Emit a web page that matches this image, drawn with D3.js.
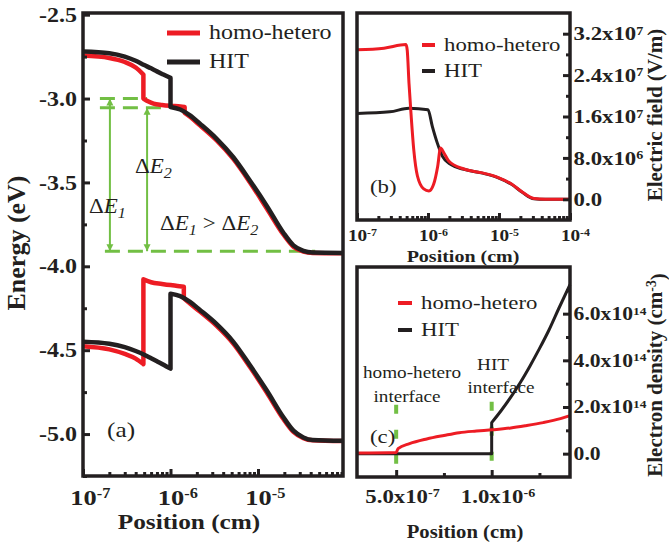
<!DOCTYPE html>
<html>
<head>
<meta charset="utf-8">
<script src="https://cdn.jsdelivr.net/npm/d3@7"></script>
<style>
  body { margin: 0; background: #fff; }
  svg { display: block; }
</style>
</head>
<body>
<svg id="chart" width="669" height="548"></svg>
<script>
const seriesNames = ['homo-hetero', 'HIT'];

// (a) band edges: [position (cm), energy (eV)]; a repeated x is an abrupt step
const cbHomo = [[1e-7,-2.744],[2e-7,-2.758],[3e-7,-2.782],[4e-7,-2.815],[4.9e-7,-2.857],[4.9e-7,-3.0],[5.6e-7,-3.018],[6.4e-7,-3.03],[8e-7,-3.038],[1e-6,-3.043],[1.3e-6,-3.047],[1.45e-6,-3.05],[1.45e-6,-3.085],[1.67e-6,-3.108],[2.17e-6,-3.16],[3.37e-6,-3.25],[5.22e-6,-3.36],[8.1e-6,-3.5],[1.26e-5,-3.655],[1.95e-5,-3.81],[2.54e-5,-3.883],[3.3e-5,-3.912],[4.2e-5,-3.92],[9.36e-5,-3.922]];
const cbHit = [[1e-7,-2.72],[2e-7,-2.73],[3e-7,-2.75],[4e-7,-2.775],[5e-7,-2.8],[6e-7,-2.82],[7e-7,-2.838],[8e-7,-2.853],[9e-7,-2.866],[1e-6,-2.877],[1e-6,-3.05],[1.29e-6,-3.065],[1.67e-6,-3.1],[2.17e-6,-3.15],[3.37e-6,-3.24],[5.22e-6,-3.35],[8.1e-6,-3.49],[1.26e-5,-3.64],[1.95e-5,-3.8],[2.54e-5,-3.875],[3.3e-5,-3.908],[4.2e-5,-3.918],[9.36e-5,-3.92]];
const vbHomo = [[1e-7,-4.476],[2e-7,-4.495],[3e-7,-4.522],[4e-7,-4.55],[4.9e-7,-4.583],[4.9e-7,-4.077],[6e-7,-4.095],[8e-7,-4.105],[1e-6,-4.112],[1.2e-6,-4.117],[1.42e-6,-4.122],[1.42e-6,-4.19],[1.67e-6,-4.222],[2.17e-6,-4.27],[3.37e-6,-4.355],[5.22e-6,-4.46],[8.1e-6,-4.6],[1.26e-5,-4.752],[1.95e-5,-4.91],[2.54e-5,-4.987],[3.3e-5,-5.024],[4.2e-5,-5.037],[9.36e-5,-5.042]];
const vbHit = [[1e-7,-4.45],[2e-7,-4.462],[3e-7,-4.482],[4e-7,-4.505],[5e-7,-4.527],[6e-7,-4.548],[7e-7,-4.566],[8e-7,-4.582],[9e-7,-4.597],[1e-6,-4.61],[1e-6,-4.163],[1.29e-6,-4.178],[1.67e-6,-4.212],[2.17e-6,-4.26],[3.37e-6,-4.345],[5.22e-6,-4.45],[8.1e-6,-4.59],[1.26e-5,-4.74],[1.95e-5,-4.9],[2.54e-5,-4.98],[3.3e-5,-5.02],[4.2e-5,-5.035],[9.36e-5,-5.04]];

// (b) electric field: [position (cm), V/m]
const fieldHomo = [[1e-7,2.89e7],[2.4e-7,2.92e7],[4.9e-7,2.99e7],[5.1e-7,2.88e7],[5.4e-7,2.24e7],[5.8e-7,1.6e7],[6.3e-7,0.96e7],[7.1e-7,0.45e7],[8.7e-7,0.2e7],[1.03e-6,0.16e7],[1.2e-6,0.29e7],[1.37e-6,0.64e7],[1.5e-6,0.99e7],[1.67e-6,0.9e7],[1.96e-6,0.74e7],[3.2e-6,0.585e7],[5.6e-6,0.515e7],[9.6e-6,0.425e7],[1.5e-5,0.295e7],[2.15e-5,0.135e7],[3.1e-5,0.015e7],[4.5e-5,0],[1e-4,0]];
const fieldHit = [[1e-7,1.66e7],[2.9e-7,1.69e7],[5.4e-7,1.76e7],[1e-6,1.73e7],[1.15e-6,1.41e7],[1.35e-6,1.09e7],[1.6e-6,0.83e7],[2.1e-6,0.67e7],[3.2e-6,0.58e7],[5.6e-6,0.51e7],[9.6e-6,0.42e7],[1.5e-5,0.29e7],[2.15e-5,0.13e7],[3.1e-5,0.01e7],[4.5e-5,0],[1e-4,0]];

// (c) electron density: [position (cm), cm^-3]
const densityHomo = [[2.95e-7,0.03e14],[5e-7,0.05e14],[5.1e-7,0.22e14],[5.7e-7,0.43e14],[6.6e-7,0.63e14],[7.5e-7,0.78e14],[8.3e-7,0.9e14],[9.2e-7,0.97e14],[1e-6,1.02e14],[1.1e-6,1.1e14],[1.18e-6,1.2e14],[1.27e-6,1.33e14],[1.36e-6,1.5e14],[1.41e-6,1.63e14]];
const densityHit = [[2.95e-7,0],[1e-6,0],[1e-6,1.33e14],[1.05e-6,1.85e14],[1.1e-6,2.42e14],[1.15e-6,3.05e14],[1.2e-6,3.75e14],[1.25e-6,4.5e14],[1.3e-6,5.3e14],[1.35e-6,6.2e14],[1.41e-6,7.25e14]];

// ticks
const energyTicks = [-2.5, -3.0, -3.5, -4.0, -4.5, -5.0];
const energyMinor = [-2.75, -3.25, -3.75, -4.25, -4.75, -5.25];
const posTicksA = [1e-7, 1e-6, 1e-5];
const posTicksB = [1e-7, 1e-6, 1e-5, 1e-4];
const fieldTicks = [0, 8e6, 1.6e7, 2.4e7, 3.2e7];
const fieldMinor = [4e6, 1.2e7, 2e7, 2.8e7];
const posTicksC = [5e-7, 1e-6];
const posMinorC = [7.5e-7, 1.25e-6];
const densityTicks = [0, 2e14, 4e14, 6e14];
const densityMinor = [1e14, 3e14, 5e14, 7e14];

// annotations (data coordinates)
const levelLines = [[1.56e-7, 5.4e-7, -3.0], [1.56e-7, 9.1e-7, -3.055], [1.78e-7, 4.5e-5, -3.91]];
const gapArrows = [[2.03e-7, -3.0, -3.91], [5.4e-7, -3.055, -3.91]];
const interfaceMarks = [[5e-7, -0.43e14, 2.15e14], [1e-6, -0.3e14, 2.4e14]];

const RED = '#ed1c24', BLACK = '#231f20', GREEN = '#72bf44';
const SERIF = '"Liberation Serif", "Times New Roman", serif';

const svg = d3.select('#chart');
svg.append('rect').attr('width', 669).attr('height', 548).attr('fill', '#fff');

svg.append('defs').append('marker')
  .attr('id', 'head').attr('viewBox', '0 0 10 10')
  .attr('refX', 10).attr('refY', 5)
  .attr('markerUnits', 'userSpaceOnUse')
  .attr('markerWidth', 7).attr('markerHeight', 9)
  .attr('orient', 'auto-start-reverse')
  .append('path').attr('d', 'M0,0L10,5L0,10z').attr('fill', GREEN);

const xA = d3.scaleLog().domain([1e-7, 9.36e-5]).range([83, 343]);
const yA = d3.scaleLinear().domain([-5.25, -2.49]).range([476, 13]);
const xB = d3.scaleLog().domain([1e-7, 1e-4]).range([357, 570]);
const yB = d3.scaleLinear().domain([-4e6, 3.6e7]).range([220, 13]);
const xC = d3.scaleLinear().domain([2.95e-7, 1.41e-6]).range([357, 570]);
const yC = d3.scaleLinear().domain([-1e14, 8e14]).range([477, 267]);

// smooth pieces joined by vertical steps where x repeats
function stepPath(pts, x, y) {
  const segs = [];
  let cur = [pts[0]];
  for (let i = 1; i < pts.length; i++) {
    if (pts[i][0] === pts[i - 1][0]) { segs.push(cur); cur = [pts[i]]; }
    else cur.push(pts[i]);
  }
  segs.push(cur);
  const line = d3.line().x(d => x(d[0])).y(d => y(d[1])).curve(d3.curveMonotoneX);
  return segs.map((s, i) => { const p = line(s); return i ? 'L' + p.slice(1) : p; }).join('');
}

function curve(g, pts, x, y, color, w) {
  g.append('path').attr('d', stepPath(pts, x, y))
    .attr('fill', 'none').attr('stroke', color).attr('stroke-width', w)
    .attr('stroke-linejoin', 'round');
}

function logMinor(domain) {
  const out = [];
  for (let e = -8; e <= -3; e++)
    for (let m = 2; m <= 9; m++) {
      const v = m * Math.pow(10, e);
      if (v > domain[0] && v < domain[1]) out.push(v);
    }
  return out;
}

function sciParts(v) {
  if (v === 0) return ['0.0', null];
  const e = Math.floor(Math.log10(Math.abs(v)) + 1e-9);
  return [(v / Math.pow(10, e)).toFixed(1) + 'x10', String(e)];
}
const powParts = v => ['10', String(Math.round(Math.log10(v)))];

function writeLabel(sel, parts) {
  sel.text(null);
  sel.append('tspan').text(parts[0]);
  if (parts[1] !== null) sel.append('tspan').attr('dy', '-0.48em').attr('font-size', '0.62em').text(parts[1]);
}

function styleAxis(g, size) {
  g.attr('color', BLACK).attr('font-family', SERIF).attr('font-weight', 'bold').attr('font-size', size);
  g.select('.domain').remove();
  g.selectAll('line').attr('stroke-width', 3);
}

// bottom axis: labels centred on the mantissa part
function bottomAxis(g, x, y0, major, minor, fmt, size, base, sx) {
  g.append('g').attr('transform', `translate(0,${y0})`)
    .call(d3.axisBottom(x).tickValues(minor).tickSizeInner(-4).tickSizeOuter(0).tickFormat(''))
    .call(a => styleAxis(a, size));
  g.append('g').attr('transform', `translate(0,${y0})`)
    .call(d3.axisBottom(x).tickValues(major).tickSizeInner(-7).tickSizeOuter(0))
    .call(a => styleAxis(a, size))
    .call(a => a.selectAll('.tick text')
      .attr('y', base).attr('dy', null).attr('text-anchor', 'start')
      .attr('transform', `scale(${sx},1)`)
      .each(function (d) {
        const t = d3.select(this);
        writeLabel(t, fmt(d));
        t.attr('x', -this.firstChild.getComputedTextLength() / 2);
      }));
}

function rightAxis(g, y, x0, major, minor, size, sx) {
  g.append('g').attr('transform', `translate(${x0},0)`)
    .call(d3.axisRight(y).tickValues(minor).tickSizeInner(-4).tickSizeOuter(0).tickFormat(''))
    .call(a => styleAxis(a, size));
  g.append('g').attr('transform', `translate(${x0},0)`)
    .call(d3.axisRight(y).tickValues(major).tickSizeInner(-7).tickSizeOuter(0).tickPadding(3))
    .call(a => styleAxis(a, size))
    .call(a => a.selectAll('.tick text')
      .attr('dy', '0.33em').attr('transform', `scale(${sx},1)`)
      .each(function (d) { writeLabel(d3.select(this), sciParts(d)); }));
}

function frame(g, x, y) {
  g.append('rect')
    .attr('x', x.range()[0]).attr('y', y.range()[1])
    .attr('width', x.range()[1] - x.range()[0]).attr('height', y.range()[0] - y.range()[1])
    .attr('fill', 'none').attr('stroke', BLACK).attr('stroke-width', 3.5);
}

function text(g, x, y, str, size, opts = {}) {
  return g.append('text')
    .attr('transform', `translate(${x},${y}) scale(${opts.sx || 1.2},1)`)
    .attr('font-family', SERIF).attr('font-size', size)
    .attr('font-weight', opts.bold ? 'bold' : 'normal')
    .attr('text-anchor', opts.anchor || 'start')
    .attr('fill', BLACK).text(str);
}

function legend(g, x, y, len, gap, size, w) {
  [RED, BLACK].forEach((c, i) => {
    g.append('line').attr('x1', x).attr('x2', x + len)
      .attr('y1', y + i * gap).attr('y2', y + i * gap)
      .attr('stroke', c).attr('stroke-width', w);
    text(g, x + len + 9, y + i * gap + size * 0.3, seriesNames[i], size);
  });
}

// ---------- (a) band diagram ----------
const gA = svg.append('g');
levelLines.forEach(l => {
  gA.append('line').attr('x1', xA(l[0])).attr('x2', xA(l[1]))
    .attr('y1', yA(l[2])).attr('y2', yA(l[2]))
    .attr('stroke', GREEN).attr('stroke-width', 3).attr('stroke-dasharray', '15,8');
});
gapArrows.forEach(a => {
  gA.append('line').attr('x1', xA(a[0])).attr('x2', xA(a[0]))
    .attr('y1', yA(a[1])).attr('y2', yA(a[2]))
    .attr('stroke', GREEN).attr('stroke-width', 2)
    .attr('marker-start', 'url(#head)').attr('marker-end', 'url(#head)');
});
curve(gA, cbHomo, xA, yA, RED, 4.5);
curve(gA, vbHomo, xA, yA, RED, 4.5);
curve(gA, cbHit, xA, yA, BLACK, 4.5);
curve(gA, vbHit, xA, yA, BLACK, 4.5);

function deltaE(t, sub) {
  t.append('tspan').text('Δ');
  t.append('tspan').attr('font-style', 'italic').text('E');
  t.append('tspan').attr('font-style', 'italic').attr('font-size', '0.7em').attr('dy', '0.35em').text(sub);
}
const d2 = text(gA, 135, 173, '', 20, { sx: 1.15 }); deltaE(d2, '2');
const d1 = text(gA, 89, 213, '', 20, { sx: 1.15 }); deltaE(d1, '1');
const d12 = text(gA, 160, 230, '', 20, { sx: 1.15 });
deltaE(d12, '1');
d12.append('tspan').attr('dy', '-0.25em').text(' > ');
deltaE(d12, '2');

text(gA, 107, 437, '(a)', 22, { sx: 1.15 });
legend(gA, 167, 33, 33, 29, 20, 5);

gA.append('g').attr('transform', `translate(${xA.range()[0]},0)`)
  .call(d3.axisLeft(yA).tickValues(energyMinor).tickSizeInner(-4).tickSizeOuter(0).tickFormat(''))
  .call(a => styleAxis(a, 19));
gA.append('g').attr('transform', `translate(${xA.range()[0]},0)`)
  .call(d3.axisLeft(yA).tickValues(energyTicks).tickSizeInner(-7).tickSizeOuter(0).tickPadding(5)
    .tickFormat(d3.format('.1f')))
  .call(a => styleAxis(a, 20))
  .call(a => a.selectAll('.tick text').attr('dy', '0.33em').attr('transform', 'scale(1.2,1)')
    .text(d => d3.format('.1f')(d).replace('−', '-')));
bottomAxis(gA, xA, yA.range()[0], posTicksA, logMinor(xA.domain()), powParts, 22, 29, 1.2);
frame(gA, xA, yA);

text(gA, 189, 529, 'Position (cm)', 22, { bold: true, anchor: 'middle', sx: 1.15 });
gA.append('text')
  .attr('transform', 'translate(25,243) rotate(-90)')
  .attr('font-family', SERIF).attr('font-size', 26).attr('font-weight', 'bold')
  .attr('text-anchor', 'middle').attr('fill', BLACK).text('Energy (eV)');

// ---------- (b) electric field ----------
const gB = svg.append('g');
curve(gB, fieldHit, xB, yB, BLACK, 3);
curve(gB, fieldHomo, xB, yB, RED, 3);
text(gB, 370, 193, '(b)', 19);
legend(gB, 422, 45, 13, 26, 19, 4);
bottomAxis(gB, xB, yB.range()[0], posTicksB, logMinor(xB.domain()), powParts, 16, 21, 1.2);
rightAxis(gB, yB, xB.range()[1], fieldTicks, fieldMinor, 19, 1.2);
frame(gB, xB, yB);
text(gB, 463, 262, 'Position (cm)', 16, { bold: true, anchor: 'middle', sx: 1.25 });
gB.append('text')
  .attr('transform', 'translate(662,115) rotate(-90)')
  .attr('font-family', SERIF).attr('font-size', 21).attr('font-weight', 'bold')
  .attr('text-anchor', 'middle').attr('fill', BLACK).text('Electric field (V/m)');

// ---------- (c) electron density ----------
const gC = svg.append('g');
interfaceMarks.forEach(m => {
  gC.append('line').attr('x1', xC(m[0])).attr('x2', xC(m[0]))
    .attr('y1', yC(m[1])).attr('y2', yC(m[2]))
    .attr('stroke', GREEN).attr('stroke-width', 4).attr('stroke-dasharray', '9,16');
});
text(gC, 412, 378, 'homo-hetero', 16, { anchor: 'middle' });
text(gC, 407, 402, 'interface', 16, { anchor: 'middle' });
text(gC, 493, 370, 'HIT', 16, { anchor: 'middle' });
text(gC, 501, 393, 'interface', 16, { anchor: 'middle' });
curve(gC, densityHit, xC, yC, BLACK, 3);
curve(gC, densityHomo, xC, yC, RED, 3);
text(gC, 370, 443, '(c)', 19);
legend(gC, 398, 303, 14, 27, 19, 4);
bottomAxis(gC, xC, yC.range()[0], posTicksC, posMinorC, sciParts, 19, 26, 1.2);
rightAxis(gC, yC, xC.range()[1], densityTicks, densityMinor, 18, 1.2);
frame(gC, xC, yC);
text(gC, 465, 538, 'Position (cm)', 18, { bold: true, anchor: 'middle', sx: 1.15 });
const tC = gC.append('text')
  .attr('transform', 'translate(662,375) rotate(-90)')
  .attr('font-family', SERIF).attr('font-size', 21).attr('font-weight', 'bold')
  .attr('text-anchor', 'middle').attr('fill', BLACK);
tC.append('tspan').text('Electron density (cm');
tC.append('tspan').attr('dy', '-0.45em').attr('font-size', '0.65em').text('-3');
tC.append('tspan').attr('dy', '0.45em').text(')');
</script>
</body>
</html>
